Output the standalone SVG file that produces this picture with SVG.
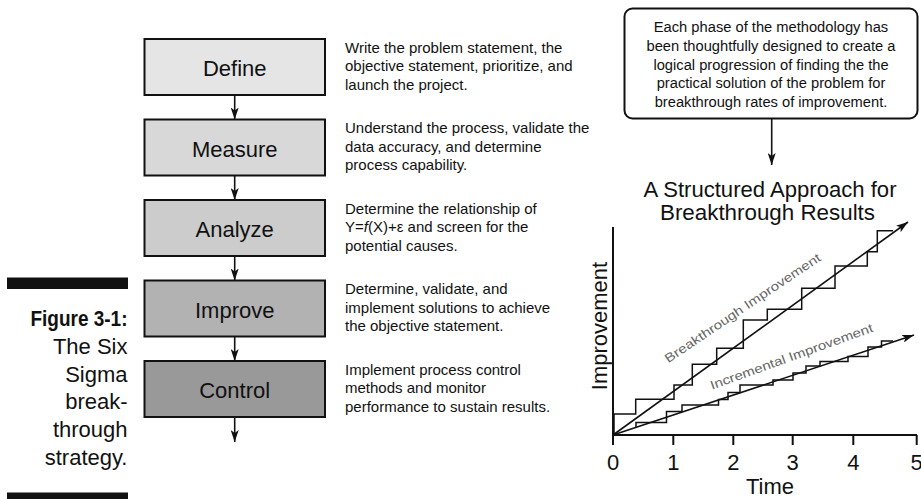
<svg xmlns="http://www.w3.org/2000/svg" width="921" height="499" viewBox="0 0 921 499">
<defs>
<style>
text{font-family:"Liberation Sans",Arial,sans-serif;fill:#111}
.box{stroke:#111;stroke-width:2}
.lbl{font-size:22px;text-anchor:middle}
.desc{font-size:15px}
.cap{font-size:22px;text-anchor:end}
.conn{stroke:#111;stroke-width:1.6;fill:none}
.ln{stroke:#111;stroke-width:1.6;fill:none}
.stair{stroke:#111;stroke-width:1.5;fill:none}
.axis{stroke:#111;stroke-width:2;fill:none}
.tick{font-size:22px;text-anchor:middle}
.call{font-size:14.7px;text-anchor:middle}
.title{font-size:22px;text-anchor:middle}
.gl{font-size:12.5px;fill:#666;text-anchor:middle}
</style>
<marker id="ah" viewBox="0 0 12 8" refX="12" refY="4" markerWidth="12" markerHeight="8" markerUnits="userSpaceOnUse" orient="auto">
<path d="M0,0 L12,4 L0,8 L3,4 Z" fill="#111"/>
</marker>
</defs>
<rect width="921" height="499" fill="#fff"/>

<g id="caption">
<rect x="7" y="277.5" width="121" height="11.5" fill="#111"/>
<rect x="7" y="492.5" width="121" height="8" fill="#111"/>
<text class="cap" x="127.5" y="326" font-weight="bold" textLength="97" lengthAdjust="spacingAndGlyphs">Figure 3-1:</text>
<text class="cap" x="127.5" y="354">The Six</text>
<text class="cap" x="127.5" y="381.7">Sigma</text>
<text class="cap" x="127.5" y="409.4">break-</text>
<text class="cap" x="127.5" y="437.1">through</text>
<text class="cap" x="127.5" y="464.8">strategy.</text>
</g>

<g id="define">
<rect class="box" x="144.5" y="39" width="180.5" height="56" fill="#e5e5e5"/>
<text class="lbl" x="234.7" y="76">Define</text>
</g>
<g id="measure">
<rect class="box" x="144.5" y="119.5" width="180.5" height="56" fill="#d8d8d8"/>
<text class="lbl" x="234.7" y="156.5">Measure</text>
</g>
<g id="analyze">
<rect class="box" x="144.5" y="200" width="180.5" height="56" fill="#cccccc"/>
<text class="lbl" x="234.7" y="237">Analyze</text>
</g>
<g id="improve">
<rect class="box" x="144.5" y="280.5" width="180.5" height="56" fill="#b2b2b2"/>
<text class="lbl" x="234.7" y="317.5">Improve</text>
</g>
<g id="control">
<rect class="box" x="144.5" y="361" width="180.5" height="56" fill="#999999"/>
<text class="lbl" x="234.7" y="398">Control</text>
</g>

<g id="descriptions" class="desc">
<text class="desc" x="345" y="52.7">Write the problem statement, the</text>
<text class="desc" x="345" y="71.2">objective statement, prioritize, and</text>
<text class="desc" x="345" y="89.7">launch the project.</text>
<text class="desc" x="345" y="133.2">Understand the process, validate the</text>
<text class="desc" x="345" y="151.7">data accuracy, and determine</text>
<text class="desc" x="345" y="170.2">process capability.</text>
<text class="desc" x="345" y="213.7">Determine the relationship of</text>
<text class="desc" x="345" y="232.2">Y=<tspan font-style="italic">f</tspan>(X)+ε and screen for the</text>
<text class="desc" x="345" y="250.7">potential causes.</text>
<text class="desc" x="345" y="294.2">Determine, validate, and</text>
<text class="desc" x="345" y="312.7">implement solutions to achieve</text>
<text class="desc" x="345" y="331.2">the objective statement.</text>
<text class="desc" x="345" y="374.7">Implement process control</text>
<text class="desc" x="345" y="393.2">methods and monitor</text>
<text class="desc" x="345" y="411.7">performance to sustain results.</text>
</g>

<g id="callout">
<rect x="624.5" y="8.5" width="293" height="110" rx="8" ry="8" fill="#fff" stroke="#111" stroke-width="2"/>
<text class="call" x="771" y="32.3">Each phase of the methodology has</text>
<text class="call" x="771" y="51">been thoughtfully designed to create a</text>
<text class="call" x="771" y="69.7">logical progression of finding the the</text>
<text class="call" x="771" y="88.4">practical solution of the problem for</text>
<text class="call" x="771" y="107">breakthrough rates of improvement.</text>
</g>

<g id="chart">
<text class="title" x="770" y="196.7" textLength="253" lengthAdjust="spacingAndGlyphs">A Structured Approach for</text>
<text class="title" x="767.5" y="220" textLength="215" lengthAdjust="spacingAndGlyphs">Breakthrough Results</text>
<path class="axis" d="M613,227 V435 H917"/>
<path class="axis" d="M673.3,435 V445 M733.3,435 V445 M792.7,435 V445 M853.3,435 V445 M916.7,435 V445 M613,435 V445"/>
<text class="tick" x="613" y="470">0</text>
<text class="tick" x="673.3" y="470">1</text>
<text class="tick" x="733.3" y="470">2</text>
<text class="tick" x="792.7" y="470">3</text>
<text class="tick" x="853.3" y="470">4</text>
<text class="tick" x="916.7" y="470">5</text>
<text class="title" x="770" y="494">Time</text>
<text class="title" font-size="23px" transform="translate(607,326) rotate(-90)" x="0" y="0">Improvement</text>
<path class="stair" d="M614,435 V414 H635.7 V399.3 H674 V385 H692.3 V364.3 H716.7 V348.3 H743.3 V320 H767.3 V309.3 H801.7 V288.3 H835 V266 H867.3 V251.7 H877.3 V230.7 H893"/>
<path class="stair" d="M636,427 V422.5 H666.5 V411.5 H682 V405 H718.5 V399.5 H728 V392.5 H740 V385 H773 V380 H793 V373 H806 V366 H820 V361.5 H848 V356.5 H868 V347 H881.5 V341 H893"/>
<text class="gl" transform="translate(745,311.5) rotate(-34)" textLength="185" lengthAdjust="spacingAndGlyphs">Breakthrough Improvement</text>
<text class="gl" transform="translate(793,360.5) rotate(-19.8)" textLength="172" lengthAdjust="spacingAndGlyphs">Incremental Improvement</text>
</g>

<g id="connectors">
<line class="conn" x1="234.7" y1="95" x2="234.7" y2="119.5" marker-end="url(#ah)"/>
<line class="conn" x1="234.7" y1="175.5" x2="234.7" y2="200" marker-end="url(#ah)"/>
<line class="conn" x1="234.7" y1="256" x2="234.7" y2="280.5" marker-end="url(#ah)"/>
<line class="conn" x1="234.7" y1="336.5" x2="234.7" y2="361" marker-end="url(#ah)"/>
<line class="conn" x1="234.7" y1="417" x2="234.7" y2="442" marker-end="url(#ah)"/>
<line class="conn" x1="771.7" y1="118.5" x2="771.7" y2="165" marker-end="url(#ah)"/>
<line class="ln" x1="613" y1="435" x2="908" y2="222" marker-end="url(#ah)"/>
<line class="ln" x1="613" y1="435" x2="914" y2="335" marker-end="url(#ah)"/>
</g>
</svg>
